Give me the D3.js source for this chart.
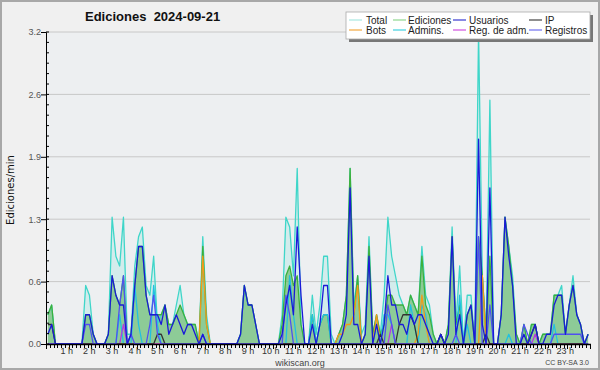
<!DOCTYPE html>
<html>
<head>
<meta charset="utf-8">
<script src="https://cdn.jsdelivr.net/npm/d3@7"></script>
<style>
  body { margin: 0; background: #f0f0f0; }
  svg { display: block; font-family: "Liberation Sans", Arial, sans-serif; }
</style>
</head>
<body>
<div id="chart"></div>
<script>
// edits per minute, one value per 10 minutes (144 slots), one row per hour
const total = [
  0.3,0.4,0,0,0,0,      0,0,0,0,0.6,0.5,      0.1,0,0,0,0.1,1.3,    0.9,0.8,1.3,0.1,0.1,0.8,
  1.1,1.2,0.6,0.5,0.9,0.2, 0.3,0.4,0.2,0.2,0.4,0.6, 0.3,0.2,0.2,0.2,0,1.1, 0.3,0,0,0,0,0,
  0,0,0,0.1,0.6,0.4,    0.4,0.2,0,0,0,0,      0,0,0.3,1.3,1.2,0.7,  1.8,0.2,0,0,0.5,0.1,
  0.4,0.9,0.9,0.1,0,0.1, 0.2,0.5,1.8,0.4,0.7,0.1, 0.2,1.1,0.1,0.3,0.1,0.5, 1.3,0.9,0.7,0.5,0.4,0.3,
  0.5,0.4,0.3,1.0,0.5,0.4, 0.1,0,0.1,0,0.2,1.2, 0.2,0.8,0,0.5,0.5,0, 3.2,0.7,0.1,2.5,0,0,
  0.3,1.3,1.0,0.7,0.1,0, 0.2,0,0.2,0.2,0,0.1,  0.1,0.1,0.5,0.5,0.6,0.1, 0.4,0.7,0.3,0.2,0,0.1
];
const ediciones = [
  0.3,0.4,0,0,0,0,      0,0,0,0,0.3,0.3,      0.1,0,0,0,0.1,0.7,    0.5,0.4,0.7,0,0.1,0.6,
  1.0,1.0,0.5,0.3,0.3,0.3, 0.3,0.4,0.2,0.2,0.3,0.4, 0.3,0.2,0.2,0.2,0,1.0, 0.2,0,0,0,0,0,
  0,0,0,0.1,0.6,0.4,    0.4,0.2,0,0,0,0,      0,0,0.2,0.7,0.8,0.6,  0.7,0.2,0,0,0.3,0,
  0.2,0.3,0.3,0,0,0.1,  0.2,0.5,1.8,0.3,0.7,0, 0.1,1.0,0.1,0.3,0.1,0.2, 0.5,0.5,0.4,0.4,0.4,0.3,
  0.5,0.4,0.3,0.9,0.4,0.3, 0.1,0,0.1,0,0.2,1.1, 0.2,0.4,0,0.3,0.4,0, 1.1,0.7,0.1,0.9,0,0,
  0.3,1.3,1.0,0.6,0.1,0, 0.2,0,0.2,0.2,0,0.1,  0.1,0.1,0.5,0.5,0.5,0.1, 0.4,0.6,0.3,0.2,0,0.1
];
const usuarios = [
  0.1,0.2,0,0,0,0,      0,0,0,0,0.3,0.3,      0.1,0,0,0,0.1,0.7,    0.5,0.4,0.4,0,0.1,0.6,
  1.0,1.0,0.5,0.3,0.3,0.3, 0.2,0.4,0.1,0.2,0.3,0.2, 0.1,0.2,0.2,0.1,0,0.1, 0,0,0,0,0,0,
  0,0,0,0.1,0.6,0.4,    0.4,0.2,0,0,0,0,      0,0,0.1,0.4,0.6,0.3,  1.2,0.5,0,0,0.2,0,
  0.2,0.6,0.6,0,0,0,    0.1,0.3,1.6,0.2,0.2,0, 0.1,0.9,0,0.2,0,0.2, 0.7,0.4,0.4,0.2,0.2,0.1,
  0.3,0.2,0.3,0.3,0.2,0.1, 0,0,0.1,0,0.1,1.1, 0.1,0.3,0,0.3,0.4,0, 2.1,0.2,0,1.6,0,0,
  0.3,1.3,0.9,0.6,0,0,  0.1,0,0.1,0.2,0,0,    0.1,0.1,0.4,0.5,0.5,0.1, 0.4,0.6,0.3,0.2,0,0.1
];
const ip = [
  0.2,0.2,0,0,0,0, 0,0,0,0,0,0, 0,0,0,0,0,0, 0,0,0,0,0,0,
  0,0,0,0,0,0.1, 0.1,0,0,0,0,0, 0,0,0,0,0,0, 0,0,0,0,0,0,
  0,0,0,0,0,0, 0,0,0,0,0,0, 0,0,0,0,0,0, 0,0,0,0,0,0,
  0,0,0,0,0,0, 0,0,0,0,0,0, 0,0,0,0,0.1,0, 0,0,0,0.2,0.3,0.3,
  0.3,0.2,0,0,0,0, 0,0,0.1,0,0,0, 0,0,0,0,0,0, 0,0,0.1,0,0,0,
  0,0,0,0,0,0, 0,0,0.1,0.2,0,0, 0,0,0,0,0,0, 0,0,0,0,0,0
];
const bots = [
  0,0,0,0,0,0, 0,0,0,0,0,0, 0,0,0,0,0,0, 0,0,0,0,0,0,
  0,0,0,0,0,0, 0,0,0,0,0,0, 0,0,0,0,0,0.9, 0.2,0,0,0,0,0,
  0,0,0,0,0,0, 0,0,0,0,0,0, 0,0,0,0,0,0, 0,0,0,0,0,0,
  0,0,0,0,0,0.1, 0.1,0.2,0.2,0.3,0.6,0, 0,0,0,0.3,0,0, 0,0,0,0,0,0,
  0,0,0.1,0.5,0.2,0, 0,0,0,0,0,0, 0,0,0,0,0,0, 0,0.7,0,0,0,0,
  0,0,0,0,0,0, 0,0,0,0,0,0, 0,0,0,0,0,0, 0,0,0,0,0,0
];
const admins = [
  0,0,0,0,0,0, 0,0,0,0,0,0, 0,0,0,0,0,0, 0,0.3,0,0,0,0.6,
  0.2,0,0,0,0.6,0.2, 0,0,0,0,0,0, 0,0,0,0,0,0, 0,0,0,0,0,0,
  0,0,0,0,0,0, 0,0,0,0,0,0, 0,0,0,0,0.7,0.3, 0,0,0,0,0.3,0,
  0.2,0.3,0.3,0,0,0, 0,0,0,0,0,0, 0,0,0,0.2,0,0.3, 0.3,0.2,0,0,0,0,
  0.4,0.2,0,0.4,0.3,0, 0,0,0,0,0,0, 0,0.5,0,0.2,0,0, 0,0,0,0,0,0,
  0,0,0.1,0,0,0, 0,0,0,0,0,0, 0,0,0.2,0,0,0, 0,0,0,0,0,0
];
const regAdm = [
  0,0,0,0,0,0, 0,0,0,0,0,0, 0,0,0,0,0,0, 0,0,0.2,0,0,0,
  0,0,0,0,0,0, 0,0,0,0,0,0, 0,0,0,0,0,0, 0,0,0,0,0,0,
  0,0,0,0,0,0, 0,0,0,0,0,0, 0,0,0,0,0,0, 0,0,0,0,0,0,
  0,0,0,0,0,0, 0,0,0,0,0,0, 0,0,0,0,0,0, 0,0.2,0,0,0,0,
  0,0,0,0,0,0, 0,0,0,0,0,0, 0,0,0,0,0,0, 0,0,0,0,0,0,
  0,0,0,0,0,0, 0,0,0,0.1,0,0, 0,0,0,0,0,0, 0,0,0,0,0,0
];
const registros = [
  0,0,0,0,0,0, 0,0,0,0,0.2,0.2, 0,0,0,0,0,0, 0,0.4,0.7,0,0.1,0,
  0,0,0,0.2,0.5,0.1, 0,0,0,0,0,0, 0,0,0,0,0,0.1, 0,0,0,0,0,0,
  0,0,0,0,0,0, 0,0,0,0,0,0, 0,0,0,0.5,0.3,0, 0,0,0,0,0,0,
  0,0,0,0,0,0, 0,0,0,0,0,0, 0,0,0,0,0,0, 0.4,0.2,0,0,0,0,
  0,0,0,0,0,0, 0,0,0,0,0,0, 0.1,0,0,0,0,0, 1.1,0,0,0.4,0,0,
  0,0,0,0,0,0, 0.2,0.1,0,0,0,0, 0,0,0.1,0.1,0.1,0.1, 0.1,0.1,0.1,0.1,0,0
];

const hourLabels = ["1 h","2 h","3 h","4 h","5 h","6 h","7 h","8 h","9 h","10 h","11 h","12 h",
  "13 h","14 h","15 h","16 h","17 h","18 h","19 h","20 h","21 h","22 h","23 h"];
const yTicks = [0, 0.64, 1.28, 1.92, 2.56, 3.2];

const legendItems = [
  ["Total", "#a8e8e2"], ["Ediciones", "#90d890"], ["Usuarios", "#3a3ad0"], ["IP", "#444"],
  ["Bots", "#f4a840"], ["Admins.", "#40d0e0"], ["Reg. de adm.", "#d050e0"], ["Registros", "#7070f0"]
];

const width = 600, height = 370;
const mLeft = 46, mRight = 590, mTop = 32, mBottom = 344;

const svg = d3.select("#chart").append("svg")
  .attr("width", width)
  .attr("height", height);

svg.append("rect")
  .attr("x", 1).attr("y", 1).attr("width", width - 2).attr("height", height - 2)
  .attr("fill", "#f0f0f0").attr("stroke", "#a8a8a8").attr("stroke-width", 2);

const x = d3.scaleLinear().domain([0, 144]).range([mLeft, mRight]);
const y = d3.scaleLinear().domain([0, 3.2]).range([mBottom, mTop]);
const px = (d, i) => x(i + 0.5);

// plot background
svg.append("rect")
  .attr("x", mLeft).attr("y", mTop).attr("width", mRight - mLeft).attr("height", mBottom - mTop)
  .attr("fill", "#edeff1");

// grid
svg.append("g").selectAll("line")
  .data(yTicks.slice(1))
  .enter().append("line")
  .attr("x1", mLeft).attr("x2", mRight)
  .attr("y1", d => y(d)).attr("y2", d => y(d))
  .attr("stroke", "#c8c8c8").attr("stroke-width", 1);

// areas
const area = d3.area().x(px).y0(y(0)).y1(d => y(d));
svg.append("path").datum(total)
  .attr("d", area).attr("fill", "#40e0d0").attr("fill-opacity", 0.15);
svg.append("path").datum(ediciones)
  .attr("d", area).attr("fill", "#5fb55f").attr("fill-opacity", 0.6);

// lines
const line = d3.line().x(px).y(d => y(d));
const series = [
  [total, "#3fd6c9"],
  [ediciones, "#3cb03c"],
  [admins, "#22c0e0"],
  [bots, "#f39a1a"],
  [regAdm, "#b838e0"],
  [ip, "#333333"],
  [registros, "#5050f0"],
  [usuarios, "#1a1ad8"]
];
series.forEach(([data, color]) => {
  svg.append("path").datum(data)
    .attr("d", line)
    .attr("fill", "none")
    .attr("stroke", color)
    .attr("stroke-width", 1.3)
    .attr("stroke-linejoin", "round");
});

// y axis
const yAxis = d3.axisLeft(y).tickValues(yTicks).tickSize(5).tickFormat(d3.format(".1f"));
const gy = svg.append("g").attr("transform", `translate(${mLeft},0)`).call(yAxis);
gy.select(".domain").attr("stroke", "#000");
gy.selectAll(".tick line").attr("stroke", "#000");
gy.selectAll("text").attr("fill", "#555").attr("font-size", 9).attr("x", -5)
  .attr("font-family", "Liberation Sans, sans-serif");

// minor y ticks
const minor = d3.range(0, 3.2001, 0.64 / 6);
svg.append("g").selectAll("line")
  .data(minor)
  .enter().append("line")
  .attr("x1", mLeft).attr("x2", mLeft + 3)
  .attr("y1", d => y(d)).attr("y2", d => y(d))
  .attr("stroke", "#000");

// x axis
svg.append("line")
  .attr("x1", mLeft).attr("x2", mRight + 1)
  .attr("y1", mBottom + 0.5).attr("y2", mBottom + 0.5)
  .attr("stroke", "#000").attr("stroke-width", 1.5);
svg.append("g").selectAll("line")
  .data(d3.range(0, 145))
  .enter().append("line")
  .attr("x1", d => Math.round(x(d)) + 0.5).attr("x2", d => Math.round(x(d)) + 0.5)
  .attr("y1", mBottom).attr("y2", d => d % 6 === 0 ? mBottom + 5 : mBottom + 4)
  .attr("stroke", "#000");

svg.append("g").selectAll("text")
  .data(hourLabels)
  .enter().append("text")
  .attr("x", (d, i) => x((i + 1) * 6) - 2)
  .attr("y", mBottom + 10)
  .attr("text-anchor", "middle")
  .attr("font-size", 9)
  .attr("fill", "#333")
  .text(d => d);

// titles
svg.append("text")
  .attr("x", 85).attr("y", 21)
  .attr("font-size", 13).attr("font-weight", "bold")
  .attr("fill", "#111")
  .style("white-space", "pre")
  .text("Ediciones  2024-09-21");

svg.append("text")
  .attr("transform", `translate(14,${(mTop + mBottom) / 2 + 2}) rotate(-90)`)
  .attr("text-anchor", "middle")
  .attr("font-size", 10)
  .attr("font-family", "DejaVu Sans, sans-serif")
  .attr("fill", "#111")
  .text("Ediciones/min");

svg.append("text")
  .attr("x", 300).attr("y", 366)
  .attr("text-anchor", "middle")
  .attr("font-size", 9).attr("fill", "#444")
  .text("wikiscan.org");

svg.append("text")
  .attr("x", 589).attr("y", 365)
  .attr("text-anchor", "end")
  .attr("font-size", 7).attr("fill", "#444")
  .text("CC BY-SA 3.0");

// legend
const lg = svg.append("g");
lg.append("rect").attr("x", 349).attr("y", 15).attr("width", 244).attr("height", 27).attr("fill", "#777");
lg.append("rect").attr("x", 346).attr("y", 12).attr("width", 244).attr("height", 27)
  .attr("fill", "#fff").attr("stroke", "#aaa").attr("stroke-width", 0.8);
const colX = [349, 393, 453, 529];
const textX = [366, 408, 469, 545];
legendItems.forEach(([name, color], k) => {
  const c = k % 4, r = Math.floor(k / 4);
  const yy = 20 + r * 10;
  lg.append("line")
    .attr("x1", colX[c]).attr("x2", colX[c] + 13)
    .attr("y1", yy).attr("y2", yy)
    .attr("stroke", color).attr("stroke-width", 1.2);
  lg.append("text")
    .attr("x", textX[c]).attr("y", yy + 3.5)
    .attr("font-size", 10).attr("fill", "#222")
    .text(name);
});
</script>
</body>
</html>
